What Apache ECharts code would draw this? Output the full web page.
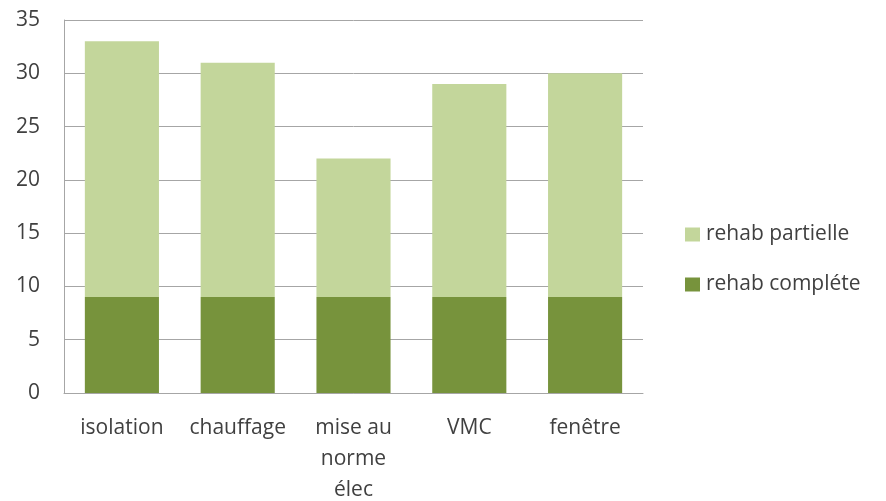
<!DOCTYPE html>
<html><head><meta charset="utf-8">
<script src="https://cdn.jsdelivr.net/npm/echarts@6/dist/echarts.min.js"></script>
<style>html,body{margin:0;padding:0;background:#fff}#c{width:886px;height:501px}</style>
</head><body><div id="c"></div>
<script>
const categories = ["isolation", "chauffage", "mise au\nnorme\nélec", "VMC", "fenêtre"];
const rehabComplete = [9, 9, 9, 9, 9];
const rehabPartielle = [24, 22, 13, 20, 21];
const yTicks = { min: 0, max: 35, interval: 5 };

const chart = echarts.init(document.getElementById('c'), null, { renderer: 'canvas' });
const font = 'Open Sans';
chart.setOption({
  animation: false,
  backgroundColor: '#ffffff',
  grid: { left: 64, right: 243, top: 20, bottom: 108, containLabel: false, outerBoundsMode: 'none' },
  legend: {
    orient: 'vertical', left: 685, top: 224, itemGap: 29, padding: 0,
    itemWidth: 15, itemHeight: 14, icon: 'rect',
    data: ['rehab partielle', 'rehab compléte'],
    textStyle: { fontFamily: font, fontSize: 21, color: '#404040', padding: [0, 0, 0, 1] }
  },
  xAxis: {
    type: 'category', data: categories,
    axisLine: { lineStyle: { color: '#a6a6a6', width: 1 } },
    axisTick: { show: false },
    axisLabel: { fontFamily: font, fontSize: 21, color: '#404040', margin: 20, lineHeight: 31, interval: 0 }
  },
  yAxis: {
    type: 'value', min: yTicks.min, max: yTicks.max, interval: yTicks.interval,
    axisLine: { show: true, lineStyle: { color: '#a6a6a6', width: 1 } },
    axisTick: { show: false },
    splitLine: { lineStyle: { color: '#a6a6a6', width: 1 } },
    axisLabel: { fontFamily: font, fontSize: 21, color: '#404040', margin: 24 }
  },
  series: [
    { name: 'rehab compléte', type: 'bar', stack: 'a', data: rehabComplete, barWidth: '64%',
      itemStyle: { color: '#77933C' } },
    { name: 'rehab partielle', type: 'bar', stack: 'a', data: rehabPartielle, barWidth: '64%',
      itemStyle: { color: '#C3D69B' } }
  ]
});
</script></body></html>
